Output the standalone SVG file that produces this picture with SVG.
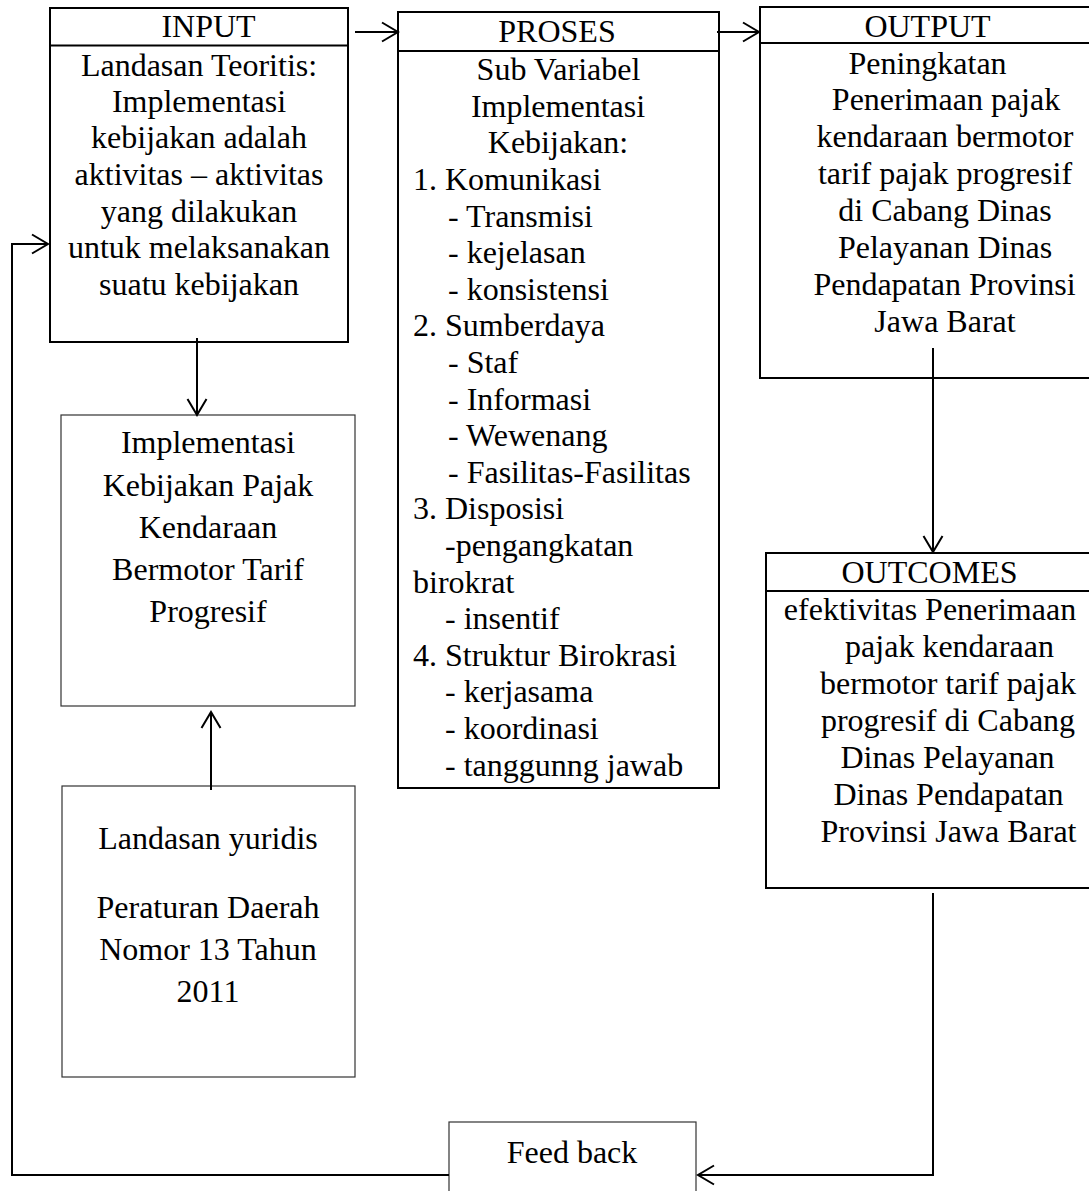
<svg xmlns="http://www.w3.org/2000/svg" width="1089" height="1191" viewBox="0 0 1089 1191">
<defs>
<style>
.box{fill:#fff;stroke:#000;stroke-width:2}
.thin{fill:#fff;stroke:#333;stroke-width:1.2}
.hdr{stroke:#000;stroke-width:2}
.t{font-family:"Liberation Serif","Times New Roman",serif;font-size:32px;fill:#000}
.c{text-anchor:middle}
.conn{fill:none;stroke:#000;stroke-width:2}
</style>
<marker id="arr" markerUnits="userSpaceOnUse" viewBox="-1 -1 19 21" refX="16" refY="9.5" markerWidth="19" markerHeight="21" orient="auto" overflow="visible">
<path d="M0,0 L16,9.5 L0,19" fill="none" stroke="#000" stroke-width="2"/>
</marker>
</defs>
<rect width="1089" height="1191" fill="#fff"/>

<g id="input">
<rect class="box" x="50" y="8" width="298" height="334"/>
<line class="hdr" x1="50" y1="45.5" x2="348" y2="45.5"/>
<text class="t c" x="208.5" y="37">INPUT</text>
<text class="t c" x="199" y="76">Landasan Teoritis:</text>
<text class="t c" x="199" y="112">Implementasi</text>
<text class="t c" x="199" y="148">kebijakan adalah</text>
<text class="t c" x="199" y="185">aktivitas – aktivitas</text>
<text class="t c" x="199" y="222">yang dilakukan</text>
<text class="t c" x="199" y="258">untuk melaksanakan</text>
<text class="t c" x="199" y="295">suatu kebijakan</text>
</g>

<g id="proses">
<rect class="box" x="398" y="12" width="321" height="776"/>
<line class="hdr" x1="398" y1="51" x2="719" y2="51"/>
<text class="t c" x="557" y="42">PROSES</text>
<text class="t c" x="558.5" y="80">Sub Variabel</text>
<text class="t c" x="558" y="117">Implementasi</text>
<text class="t c" x="558" y="153">Kebijakan:</text>
<text class="t" x="413" y="190">1. Komunikasi</text>
<text class="t" x="448" y="226.5">- Transmisi</text>
<text class="t" x="448" y="263">- kejelasan</text>
<text class="t" x="448" y="299.5">- konsistensi</text>
<text class="t" x="413" y="336">2. Sumberdaya</text>
<text class="t" x="448" y="373">- Staf</text>
<text class="t" x="448" y="409.5">- Informasi</text>
<text class="t" x="448" y="446">- Wewenang</text>
<text class="t" x="448" y="482.5">- Fasilitas-Fasilitas</text>
<text class="t" x="413" y="519">3. Disposisi</text>
<text class="t" x="445" y="556">-pengangkatan</text>
<text class="t" x="413" y="592.5">birokrat</text>
<text class="t" x="445" y="629">- insentif</text>
<text class="t" x="413" y="665.5">4. Struktur Birokrasi</text>
<text class="t" x="445" y="702">- kerjasama</text>
<text class="t" x="445" y="739">- koordinasi</text>
<text class="t" x="445" y="775.5">- tanggunng jawab</text>
</g>

<g id="output">
<rect class="box" x="760" y="7" width="340" height="371"/>
<line class="hdr" x1="760" y1="43" x2="1100" y2="43"/>
<text class="t c" x="927.5" y="37">OUTPUT</text>
<text class="t c" x="927.5" y="74">Peningkatan</text>
<text class="t c" x="946" y="110">Penerimaan pajak</text>
<text class="t c" x="945" y="147">kendaraan bermotor</text>
<text class="t c" x="945" y="184">tarif pajak progresif</text>
<text class="t c" x="945" y="221">di Cabang Dinas</text>
<text class="t c" x="945" y="258">Pelayanan Dinas</text>
<text class="t c" x="944.5" y="295">Pendapatan Provinsi</text>
<text class="t c" x="945" y="332">Jawa Barat</text>
</g>

<g id="outcomes">
<rect class="box" x="766" y="553" width="340" height="335"/>
<line class="hdr" x1="766" y1="591" x2="1106" y2="591"/>
<text class="t c" x="929.5" y="583">OUTCOMES</text>
<text class="t c" x="930" y="620">efektivitas Penerimaan</text>
<text class="t c" x="949.5" y="657">pajak kendaraan</text>
<text class="t c" x="948" y="694">bermotor tarif pajak</text>
<text class="t c" x="948" y="731">progresif di Cabang</text>
<text class="t c" x="947.5" y="768">Dinas Pelayanan</text>
<text class="t c" x="948.5" y="805">Dinas Pendapatan</text>
<text class="t c" x="948.5" y="842">Provinsi Jawa Barat</text>
</g>

<g id="implementasi">
<rect class="thin" x="61" y="415" width="294" height="291"/>
<text class="t c" x="208" y="453">Implementasi</text>
<text class="t c" x="208" y="496">Kebijakan Pajak</text>
<text class="t c" x="208" y="538">Kendaraan</text>
<text class="t c" x="208" y="580">Bermotor Tarif</text>
<text class="t c" x="208" y="622">Progresif</text>
</g>

<g id="landasan-yuridis">
<rect class="thin" x="62" y="786" width="293" height="291"/>
<text class="t c" x="208" y="849">Landasan yuridis</text>
<text class="t c" x="208" y="918">Peraturan Daerah</text>
<text class="t c" x="208" y="960">Nomor 13 Tahun</text>
<text class="t c" x="208" y="1002">2011</text>
</g>

<g id="feedback">
<rect class="thin" x="449" y="1122" width="247" height="90"/>
<text class="t c" x="572" y="1163">Feed back</text>
</g>

<g id="connectors">
<path class="conn" d="M355,32 L398,32" marker-end="url(#arr)"/>
<path class="conn" d="M717,32 L759,32" marker-end="url(#arr)"/>
<path class="conn" d="M197,338 L197,415" marker-end="url(#arr)"/>
<path class="conn" d="M211,790 L211,712" marker-end="url(#arr)"/>
<path class="conn" d="M933,348 L933,552" marker-end="url(#arr)"/>
<path class="conn" d="M933,893 L933,1175 L698,1175" marker-end="url(#arr)"/>
<path class="conn" d="M449,1175 L12,1175 L12,244 L48,244" marker-end="url(#arr)"/>
</g>
</svg>
